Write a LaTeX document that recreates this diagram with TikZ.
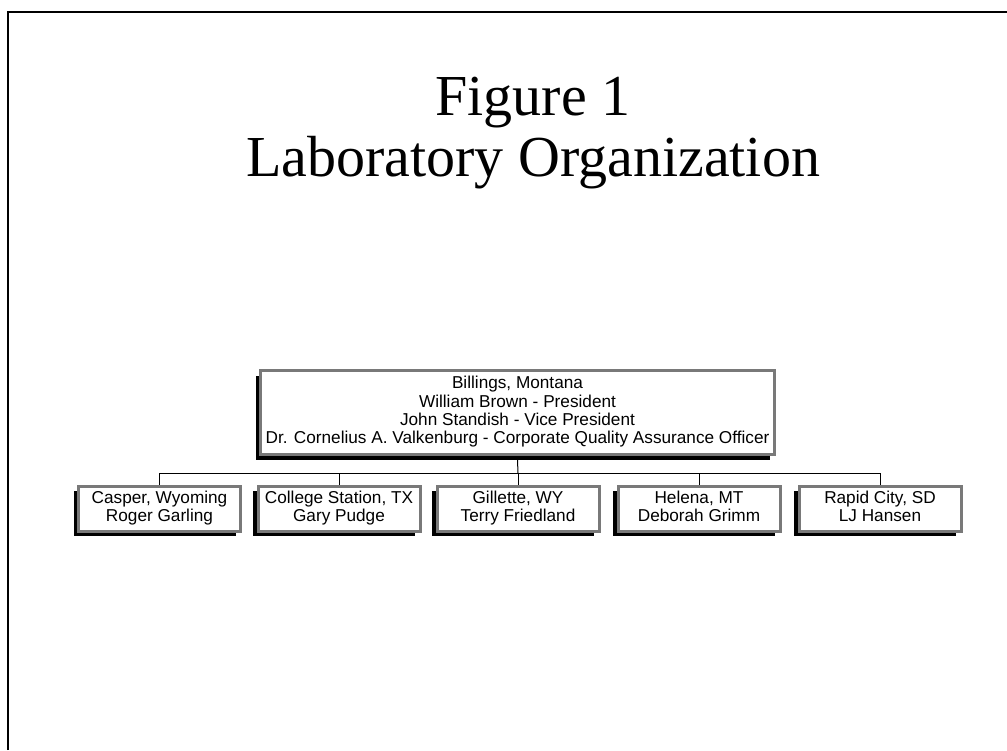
\documentclass[tikz,border=0pt]{standalone}
\usepackage{fontspec}
\setmainfont{Liberation Serif}
\setsansfont{Liberation Sans}
\usetikzlibrary{shadows}
\tikzset{
  orgbox/.style={draw=gray!95!black, line width=3pt, fill=white, align=center,
    font=\sffamily\fontsize{17.2}{18.2}\selectfont, inner sep=0pt,
    drop shadow={shadow xshift=-5pt, shadow yshift=-5pt, fill=black, opacity=1}},
  topbox/.style={orgbox, minimum width=514pt, minimum height=84pt},
  sitebox/.style={orgbox, minimum width=162pt, minimum height=45pt},
  conn/.style={draw=black, line width=1pt},
  titletext/.style={font=\rmfamily\fontsize{58}{62}\selectfont, anchor=base, inner sep=0pt}
}
\begin{document}
\begin{tikzpicture}[x=1pt,y=-1pt]
\useasboundingbox (0,0) rectangle (1007,750);
\fill[white] (0,0) rectangle (1007,750);
% frame (only top and left edges visible)
\draw[line width=2.5pt] (8,750) -- (8,12) -- (1007,12);
% title
\node[titletext] (t1) at (533,115) {Figure 1};
\node[titletext] (t2) at (533,176) {Laboratory Organization};
% boxes
\node[topbox] (top) at (517.5,412.5) {\strut Billings, Montana\\\strut William Brown - President\\\strut John Standish - Vice President\\\strut Dr. Cornelius A. Valkenburg - Corporate Quality Assurance Officer};
\coordinate (bus) at (518,473);
\node[sitebox] (c1) at (159.5,508.5) {\strut Casper, Wyoming\\\strut Roger Garling};
\node[sitebox] (c2) at (339,508.5) {\strut College Station, TX\\\strut Gary Pudge};
\node[sitebox] (c3) at (518,508.5) {\strut Gillette, WY\\\strut Terry Friedland};
\node[sitebox] (c4) at (699,508.5) {\strut Helena, MT\\\strut Deborah Grimm};
\node[sitebox] (c5) at (880,508.5) {\strut Rapid City, SD\\\strut LJ Hansen};
% connectors
\draw[conn] ([yshift=-4pt]top.south) -- (bus);
\draw[conn] (c1.north) -- (c1.north |- bus) -- (c5.north |- bus) -- (c5.north);
\draw[conn] (c2.north) -- (c2.north |- bus);
\draw[conn] (c3.north) -- (c3.north |- bus);
\draw[conn] (c4.north) -- (c4.north |- bus);
\end{tikzpicture}
\end{document}
